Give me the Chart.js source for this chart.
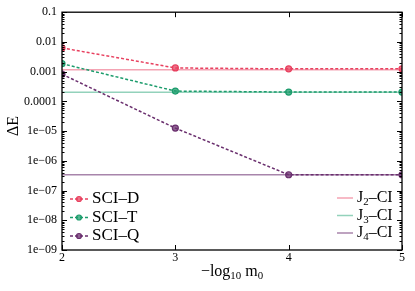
<!DOCTYPE html>
<html>
<head>
<meta charset="utf-8">
<script src="https://cdn.jsdelivr.net/npm/chart.js@4"></script>
<style>
  html, body { margin: 0; padding: 0; background: #fff; }
  #wrap { width: 415px; height: 291px; }
</style>
</head>
<body>
<div id="wrap"><canvas id="chart" width="415" height="291"></canvas></div>
<script>
// data
const xValues = [2, 3, 4, 5];
const sciD = [0.0063, 0.00133, 0.00124, 0.00124];
const sciT = [0.00185, 0.000222, 0.000206, 0.000206];
const sciQ = [0.00082, 1.26e-5, 3.4e-7, 3.4e-7];
const ciLevels = [0.00116, 0.000202, 3.4e-7];

const sciLabels = ['SCI\u2013D', 'SCI\u2013T', 'SCI\u2013Q'];
const ciLabels = [['J', '2', '\u2013CI'], ['J', '3', '\u2013CI'], ['J', '4', '\u2013CI']];
const yTicks = [0.1, 0.01, 0.001, 0.0001, 1e-5, 1e-6, 1e-7, 1e-8, 1e-9];
const yTickLabels = ['0.1', '0.01', '0.001', '0.0001', '1e\u221205', '1e\u221206', '1e\u221207', '1e\u221208', '1e\u221209'];

const sciColors = ['#e8405f', '#1c9c6c', '#6a2f6e'];
const sciFills = ['rgba(232,64,95,0.75)', 'rgba(28,156,108,0.75)', 'rgba(106,47,110,0.75)'];
const ciColors = ['#f4a3b3', '#93d2bb', '#a885ab'];

const serif = '"Liberation Serif", "DejaVu Serif", serif';

function pts(ys) {
    return xValues.map((x, i) => ({ x: x, y: ys[i] }));
}

const datasets = [];
[sciD, sciT, sciQ].forEach((ys, i) => {
    datasets.push({
        label: sciLabels[i],
        data: pts(ys),
        borderColor: sciColors[i],
        backgroundColor: sciFills[i],
        pointBorderColor: sciColors[i],
        pointBackgroundColor: sciFills[i],
        borderWidth: 1.5,
        borderDash: [3, 2],
        pointRadius: 3,
        pointBorderWidth: 1.2,
        order: 1,
        group: 'sci'
    });
});
ciLevels.forEach((v, i) => {
    datasets.push({
        label: ciLabels[i].join(''),
        data: [{ x: xValues[0], y: v }, { x: xValues[xValues.length - 1], y: v }],
        borderColor: ciColors[i],
        backgroundColor: ciColors[i],
        borderWidth: 1.5,
        pointRadius: 0,
        order: 2,
        group: 'ci'
    });
});

// draw text made of [normal, subscript, normal, subscript...] parts
function drawParts(ctx, parts, x, y, size) {
    let cx = x;
    parts.forEach((p, i) => {
        const sub = i % 2 === 1;
        ctx.font = (sub ? size * 0.68 : size) + 'px ' + serif;
        ctx.fillText(p, cx, sub ? y + size * 0.28 : y);
        cx += ctx.measureText(p).width;
    });
    return cx - x;
}
function partsWidth(ctx, parts, size) {
    let w = 0;
    parts.forEach((p, i) => {
        ctx.font = (i % 2 === 1 ? size * 0.68 : size) + 'px ' + serif;
        w += ctx.measureText(p).width;
    });
    return w;
}

const framePlugin = {
    id: 'frame',
    afterDraw(chart) {
        const ctx = chart.ctx;
        const a = chart.chartArea;
        const xs = chart.scales.x, ys = chart.scales.y;
        ctx.save();
        ctx.strokeStyle = '#000';
        ctx.lineWidth = 1.3;
        ctx.strokeRect(a.left, a.top, a.right - a.left, a.bottom - a.top);

        // ticks inside the frame
        ctx.lineWidth = 1;
        ctx.beginPath();
        xValues.forEach(v => {
            const px = Math.round(xs.getPixelForValue(v)) + 0.5;
            ctx.moveTo(px, a.bottom); ctx.lineTo(px, a.bottom - 5);
            ctx.moveTo(px, a.top); ctx.lineTo(px, a.top + 5);
        });
        yTicks.forEach((v, k) => {
            const py = Math.round(ys.getPixelForValue(v)) + 0.5;
            ctx.moveTo(a.left, py); ctx.lineTo(a.left + 5, py);
            ctx.moveTo(a.right, py); ctx.lineTo(a.right - 5, py);
            if (k < yTicks.length - 1) {
                for (let m = 2; m <= 9; m++) {
                    const my = Math.round(ys.getPixelForValue(v / 10 * m)) + 0.5;
                    ctx.moveTo(a.left, my); ctx.lineTo(a.left + 2.5, my);
                    ctx.moveTo(a.right, my); ctx.lineTo(a.right - 2.5, my);
                }
            }
        });
        ctx.stroke();

        // axis titles
        ctx.fillStyle = '#000';
        ctx.textBaseline = 'middle';
        const xt = ['\u2212log', '10', ' m', '0'];
        const w = partsWidth(ctx, xt, 16);
        drawParts(ctx, xt, (a.left + a.right) / 2 - w / 2, 272, 16);

        ctx.save();
        ctx.translate(14, 126);
        ctx.rotate(-Math.PI / 2);
        ctx.textAlign = 'center';
        ctx.font = '16px ' + serif;
        ctx.fillText('\u0394E', 0, 0);
        ctx.restore();

        // legends
        const sets = chart.data.datasets;
        let row = 0;
        sets.forEach(ds => {
            if (ds.group !== 'sci') return;
            const y = 199 + row * 18.5;
            ctx.strokeStyle = ds.borderColor;
            ctx.lineWidth = 1.5;
            ctx.setLineDash([3, 2]);
            ctx.beginPath(); ctx.moveTo(70, y); ctx.lineTo(90, y); ctx.stroke();
            ctx.setLineDash([]);
            ctx.fillStyle = ds.pointBackgroundColor;
            ctx.beginPath(); ctx.arc(79, y, 2.5, 0, Math.PI * 2); ctx.fill();
            ctx.lineWidth = 1.2; ctx.stroke();
            ctx.fillStyle = '#000';
            ctx.textAlign = 'left';
            ctx.font = '17px ' + serif;
            ctx.fillText(ds.label, 92, y);
            row++;
        });
        row = 0;
        sets.forEach(ds => {
            if (ds.group !== 'ci') return;
            const y = 198 + row * 17.5;
            ctx.strokeStyle = ds.borderColor;
            ctx.lineWidth = 1.5;
            ctx.beginPath(); ctx.moveTo(337, y); ctx.lineTo(353, y); ctx.stroke();
            ctx.fillStyle = '#000';
            ctx.textAlign = 'left';
            drawParts(ctx, ciLabels[row], 357, y, 16);
            row++;
        });
        ctx.restore();
    }
};

new Chart(document.getElementById('chart'), {
    type: 'line',
    data: { datasets: datasets },
    options: {
        responsive: false,
        animation: false,
        layout: { padding: { left: 0, right: 13, top: 9, bottom: 0 } },
        plugins: { legend: { display: false }, tooltip: { enabled: false } },
        scales: {
            x: {
                type: 'linear',
                min: 2,
                max: 5,
                grid: { display: false, drawTicks: false },
                border: { display: false },
                afterBuildTicks: s => { s.ticks = xValues.map(v => ({ value: v })); },
                afterFit: s => { s.height = 41; },
                ticks: {
                    padding: 1,
                    color: '#000',
                    font: { family: serif, size: 12 },
                    maxRotation: 0,
                    callback: v => String(v)
                }
            },
            y: {
                type: 'logarithmic',
                min: 1e-9,
                max: 0.1,
                grid: { display: false, drawTicks: false },
                border: { display: false },
                afterBuildTicks: s => { s.ticks = yTicks.map(v => ({ value: v })); },
                afterFit: s => { s.width = 62; },
                ticks: {
                    padding: 5,
                    color: '#000',
                    font: { family: serif, size: 12 },
                    callback: v => {
                        const k = yTicks.findIndex(t => Math.abs(t - v) / t < 1e-6);
                        return k >= 0 ? yTickLabels[k] : '';
                    }
                }
            }
        }
    },
    plugins: [framePlugin]
});
</script>
</body>
</html>
